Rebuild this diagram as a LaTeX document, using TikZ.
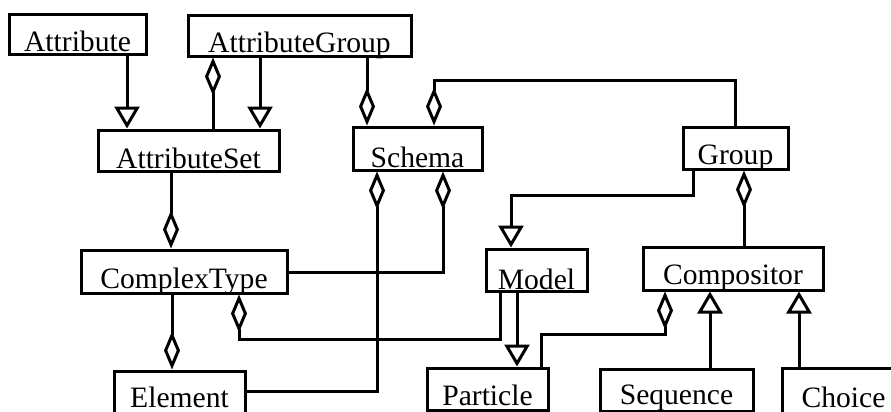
\documentclass[tikz,border=0pt]{standalone}
\usepackage{fontspec}
\setmainfont{Liberation Serif}
\usetikzlibrary{arrows.meta}

\tikzset{
  box/.style={draw, rectangle, line width=1.5pt, inner sep=0pt},
  lbl/.style={anchor=base, inner sep=0pt, font=\fontsize{14.8}{17}\selectfont},
  wire/.style={line width=1.5pt, line join=miter},
  gen/.style={wire, -{Triangle[open, length=11pt, width=12.5pt]}},
  agg/.style={wire, -{Diamond[open, length=19pt, width=8pt]}},
}

% class box: name, x1, y1, x2, y2, baseline of the label, label
\newcommand\umlbox[7]{%
  \pgfmathsetmacro\boxw{(#4-#2)*0.5}%
  \pgfmathsetmacro\boxh{(#5-#3)*0.5}%
  \node[box, minimum width=\boxw pt, minimum height=\boxh pt] (#1) at ({(#2+#4)/2},{(#3+#5)/2}) {};
  \node[lbl] (#1-t) at ({(#2+#4)/2},#6) {#7};
}

\begin{document}
\begin{tikzpicture}[x=0.5pt, y=-0.5pt]
\useasboundingbox (0,0) rectangle (891,412);

% classes
\umlbox{attribute}{9}{14}{146}{54}{52}{Attribute}
\umlbox{attrgroup}{188}{15}{411}{56}{53}{AttributeGroup}
\umlbox{attrset}{98}{130}{279}{171}{169}{AttributeSet}
\umlbox{schema}{353}{127}{482}{170}{167}{Schema}
\umlbox{group}{683}{127}{788}{169}{164}{Group}
\umlbox{complextype}{81}{250}{287}{293}{288}{ComplexType}
\umlbox{model}{486}{249}{587}{291}{289}{Model}
\umlbox{compositor}{643}{247}{823}{290}{285}{Compositor}
\umlbox{element}{114}{371}{245}{416}{407}{Element}
\umlbox{particle}{427}{368}{548}{410}{405}{Particle}
\umlbox{sequence}{600}{369}{753}{411}{404}{Sequence}
\umlbox{choice}{782}{368}{905}{416}{407}{Choice}

% generalisations
\draw[gen] (attribute.south -| 127,0) -- (attrset.north -| 127,0);
\draw[gen] (attrgroup.south -| 260,0) -- (attrset.north -| 260,0);
\draw[gen] (group.south -| 693,0) |- (511,195) -- (model.north -| 511,0);
\draw[gen] (model.south -| 517,0) -- (particle.north -| 517,0);
\draw[gen] (sequence.north -| 710,0) -- (compositor.south -| 710,0);
\draw[gen] (choice.north -| 799,0) -- (compositor.south -| 799,0);

% aggregations
\draw[agg] (attrset.north -| 213,0) -- (attrgroup.south -| 213,0);
\draw[agg] (attrgroup.south -| 367,0) -- (schema.north -| 367,0);
\draw[agg] (group.north) |- (434,80) -- (schema.north -| 434,0);
\draw[agg] (compositor.north -| 744,0) -- (group.south -| 744,0);
\draw[agg] (attrset.south -| 171,0) -- (complextype.north -| 171,0);
\draw[agg] (complextype.south -| 172,0) -- (element.north -| 172,0);
\draw[agg] (element.east |- 0,391) -| (schema.south -| 377,0);
\draw[agg] (complextype.east |- 0,272) -| (schema.south -| 443,0);
\draw[agg] (model.south -| 500,0) |- (239,339) -- (complextype.south -| 239,0);
\draw[agg] (particle.north -| 541,0) |- (665,334) -- (compositor.south -| 665,0);

\end{tikzpicture}
\end{document}
